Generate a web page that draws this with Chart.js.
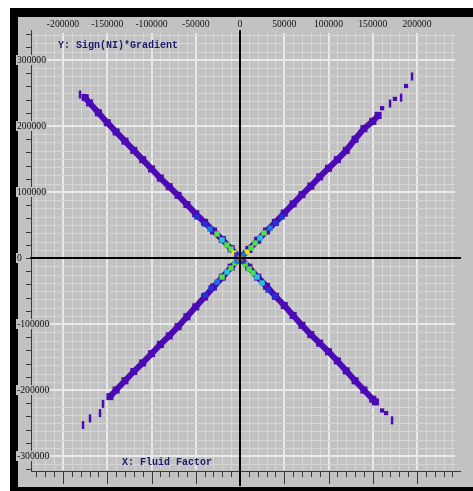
<!DOCTYPE html>
<html>
<head>
<meta charset="utf-8">
<script src="https://cdn.jsdelivr.net/npm/chart.js@4.4.0/dist/chart.umd.min.js"></script>
<style>
  html, body { margin: 0; padding: 0; background: #fff; overflow: hidden; }
  canvas { display: block; }
</style>
</head>
<body>
<canvas id="crossplot" width="473" height="491"></canvas>
<script>
// Tick labels
const xTickLabels = [-200000, -150000, -100000, -50000, 0, 50000, 100000, 150000, 200000];
const yTickLabels = [300000, 200000, 100000, 0, -100000, -200000, -300000];

// The four arms of the X (dense purple bins)
const upLeftX = [0, -10000, -20000, -30000, -40000, -50000, -60000, -70000, -80000, -90000, -100000, -110000, -120000, -130000, -140000, -150000, -160000, -170000, -175000];
const upLeftY = [0, 14000, 28000, 41000, 54000, 67000, 81000, 95000, 108000, 121000, 135000, 149000, 163000, 177000, 191000, 205000, 220000, 235000, 243000];

const upRightX = [0, 10000, 20000, 30000, 40000, 50000, 60000, 70000, 80000, 90000, 100000, 110000, 120000, 130000, 140000, 150000, 156000];
const upRightY = [0, 13000, 27000, 41000, 54000, 68000, 82000, 96000, 109000, 123000, 136000, 149000, 163000, 180000, 196000, 207000, 216000];

const lowLeftX = [0, -10000, -20000, -30000, -40000, -50000, -60000, -70000, -80000, -90000, -100000, -110000, -120000, -130000, -140000, -147000];
const lowLeftY = [0, -14000, -29000, -44000, -59000, -74000, -89000, -104000, -118000, -131000, -145000, -159000, -172000, -186000, -200000, -210000];

const lowRightX = [0, 10000, 20000, 30000, 40000, 50000, 60000, 70000, 80000, 90000, 100000, 110000, 120000, 130000, 140000, 150000, 153000];
const lowRightY = [0, -14000, -29000, -43000, -58000, -72000, -87000, -102000, -116000, -129000, -142000, -156000, -171000, -186000, -200000, -214000, -218000];

// sparse bins at the ends of the arms
const tailX = [-180800, -177400, -169500, -158200, -154800, 169500, 182000, 194400, 171800];
const tailY = [247700, -253000, -243000, -235000, -221000, 234000, 243000, 275000, -246000];
const dotX = [-176300, 160500, 175000, 187600, 160500, 165000];
const dotY = [245500, 227000, 241000, 260600, -231000, -235000];

// denser bins around the crossing; level 1 = blue ... 6 = orange
const coreX = [-48600, -39600, -33900, -26000, -20300, -14700, -10200, -6800,
  7900, 12400, 17000, 22600, 27100, 33900, 40700, 47500,
  -5700, -10200, -14700, -20300, -26000, -32800, -39600,
  5700, 10200, 14700, 19200, 24900, 31600, 39600,
  -3400, 3400, 3400, -3400, 0];
const coreY = [62100, 51500, 43900, 36400, 27300, 19700, 13600, 7600,
  9100, 15200, 22700, 30300, 37900, 45500, 53000, 62100,
  -7600, -15200, -21200, -28800, -36400, -45500, -56100,
  -9100, -16700, -22700, -28800, -37900, -48500, -57600,
  4500, -4500, 4500, -4500, 0];
const coreLevel = [1, 1, 2, 4, 3, 4, 4, 5,
  5, 4, 4, 3, 4, 2, 1, 1,
  4, 4, 3, 4, 2, 1, 1,
  4, 4, 4, 3, 3, 1, 1,
  1, 1, 2, 2, 6];

const levelColors = ['rgb(75,10,180)', 'rgb(35,50,210)', 'rgb(20,120,224)', 'rgb(30,200,216)', 'rgb(78,226,68)', 'rgb(230,228,30)', 'rgb(240,100,26)'];
const PURPLE = levelColors[0];
const GREY = 'rgb(194,194,194)';
const MINOR = 'rgb(214,214,214)';
const MAJOR = 'rgb(234,234,234)';

const toPoints = (xs, ys) => xs.map((x, i) => ({ x: x, y: ys[i] }));

function armDataset(xs, ys) {
  return {
    data: toPoints(xs, ys),
    order: 3,
    showLine: true,
    borderColor: PURPLE,
    backgroundColor: PURPLE,
    borderWidth: 6,
    pointStyle: 'rect',
    pointRadius: 5,
    pointBackgroundColor: PURPLE,
    pointBorderWidth: 0
  };
}

// background, black frame and the grid
const framePlugin = {
  id: 'frame',
  beforeDraw(chart) {
    const ctx = chart.ctx;
    ctx.save();
    ctx.fillStyle = '#ffffff';
    ctx.fillRect(0, 0, 473, 491);
    ctx.fillStyle = '#000000';
    ctx.fillRect(10, 8, 463, 483);
    ctx.fillStyle = GREY;
    ctx.fillRect(18, 17, 455, 470);
    ctx.restore();
  },
  beforeDatasetsDraw(chart) {
    const ctx = chart.ctx;
    const a = chart.chartArea;
    const xs = chart.scales.x, ys = chart.scales.y;
    ctx.save();
    for (let v = -230000; v <= 240000; v += 10000) {
      const major = v % 50000 === 0;
      const px = Math.round(xs.getPixelForValue(v)) + (major ? 0 : 0.5);
      ctx.strokeStyle = major ? MAJOR : MINOR;
      ctx.lineWidth = major ? 2 : 1;
      ctx.beginPath();
      ctx.moveTo(px, a.top);
      ctx.lineTo(px, a.bottom);
      ctx.stroke();
    }
    for (let v = -312500; v <= 337500; v += 12500) {
      const major = v % 100000 === 0;
      const py = Math.round(ys.getPixelForValue(v)) + (major ? 0 : 0.5);
      ctx.strokeStyle = major ? MAJOR : MINOR;
      ctx.lineWidth = major ? 2 : 1;
      ctx.beginPath();
      ctx.moveTo(a.left, py);
      ctx.lineTo(a.right, py);
      ctx.stroke();
    }
    ctx.restore();
  }
};

// rulers, zero lines, tick labels and axis titles
const axesPlugin = {
  id: 'axes',
  afterDatasetsDraw(chart) {
    const ctx = chart.ctx;
    const xs = chart.scales.x, ys = chart.scales.y;
    const x0 = Math.round(xs.getPixelForValue(0));
    const y0 = Math.round(ys.getPixelForValue(0));
    ctx.save();

    // left ruler
    ctx.strokeStyle = 'rgb(58,58,58)';
    ctx.lineWidth = 1;
    ctx.beginPath();
    ctx.moveTo(31.5, 30);
    ctx.lineTo(31.5, 472);
    for (let v = -320000; v <= 340000; v += 20000) {
      const py = Math.round(ys.getPixelForValue(v)) + 0.5;
      ctx.moveTo(26, py);
      ctx.lineTo(31.5, py);
    }
    // bottom ruler
    ctx.moveTo(31, 471.5);
    ctx.lineTo(461, 471.5);
    for (let v = -230000; v <= 240000; v += 10000) {
      const px = Math.round(xs.getPixelForValue(v)) + 0.5;
      ctx.moveTo(px, 471.5);
      ctx.lineTo(px, v % 50000 === 0 ? 484 : 477);
    }
    ctx.stroke();

    // zero lines
    ctx.strokeStyle = '#000000';
    ctx.lineWidth = 2;
    ctx.beginPath();
    ctx.moveTo(30, y0);
    ctx.lineTo(461, y0);
    ctx.moveTo(x0, 30);
    ctx.lineTo(x0, 486);
    ctx.stroke();

    // tick labels
    ctx.font = '11px "Liberation Serif"';
    ctx.textBaseline = 'middle';
    ctx.fillStyle = '#111111';
    xTickLabels.forEach(v => {
      ctx.save();
      ctx.translate(xs.getPixelForValue(v), 24);
      ctx.scale(0.88, 1);
      ctx.textAlign = 'center';
      ctx.fillText(String(v), 0, 0);
      ctx.restore();
    });
    yTickLabels.forEach(v => {
      const py = ys.getPixelForValue(v);
      const w = ctx.measureText(String(v)).width * 0.88;
      ctx.fillStyle = GREY;
      ctx.fillRect(16, py - 5, w + 2, 10);
      ctx.fillStyle = '#111111';
      ctx.save();
      ctx.translate(17, py);
      ctx.scale(0.88, 1);
      ctx.textAlign = 'left';
      ctx.fillText(String(v), 0, 0);
      ctx.restore();
    });

    // axis titles
    ctx.font = 'bold 10px "Liberation Mono"';
    ctx.textAlign = 'left';
    ctx.fillStyle = 'rgb(28,28,108)';
    ctx.fillText('Y: Sign(NI)*Gradient', 58, 45);
    ctx.fillText('X: Fluid Factor', 122, 462);
    ctx.restore();
  }
};

const config = {
  type: 'scatter',
  data: {
    datasets: [
      armDataset(upLeftX, upLeftY),
      armDataset(upRightX, upRightY),
      armDataset(lowLeftX, lowLeftY),
      armDataset(lowRightX, lowRightY),
      {
        data: toPoints(tailX, tailY),
        order: 2,
        pointStyle: 'line',
        rotation: 90,
        pointRadius: 4,
        borderColor: PURPLE,
        backgroundColor: PURPLE,
        pointBorderWidth: 2.5
      },
      {
        data: toPoints(dotX, dotY),
        order: 2,
        pointStyle: 'rect',
        pointRadius: 3,
        borderColor: PURPLE,
        backgroundColor: PURPLE,
        pointBorderWidth: 0
      },
      {
        data: toPoints(coreX, coreY),
        order: 1,
        pointStyle: 'rect',
        pointRadius: 3.8,
        pointBackgroundColor: coreLevel.map(l => levelColors[l]),
        pointBorderWidth: 0
      }
    ]
  },
  options: {
    responsive: false,
    devicePixelRatio: 1,
    animation: false,
    layout: { padding: { left: 33, top: 33, right: 18, bottom: 21 } },
    plugins: { legend: { display: false }, tooltip: { enabled: false } },
    scales: {
      x: { type: 'linear', display: false, min: -233900, max: 242900 },
      y: { type: 'linear', display: false, min: -321200, max: 340900 }
    }
  },
  plugins: [framePlugin, axesPlugin]
};

window.onload = function() {
  const ctx = document.getElementById('crossplot').getContext('2d');
  new Chart(ctx, config);
};
</script>
</body>
</html>
